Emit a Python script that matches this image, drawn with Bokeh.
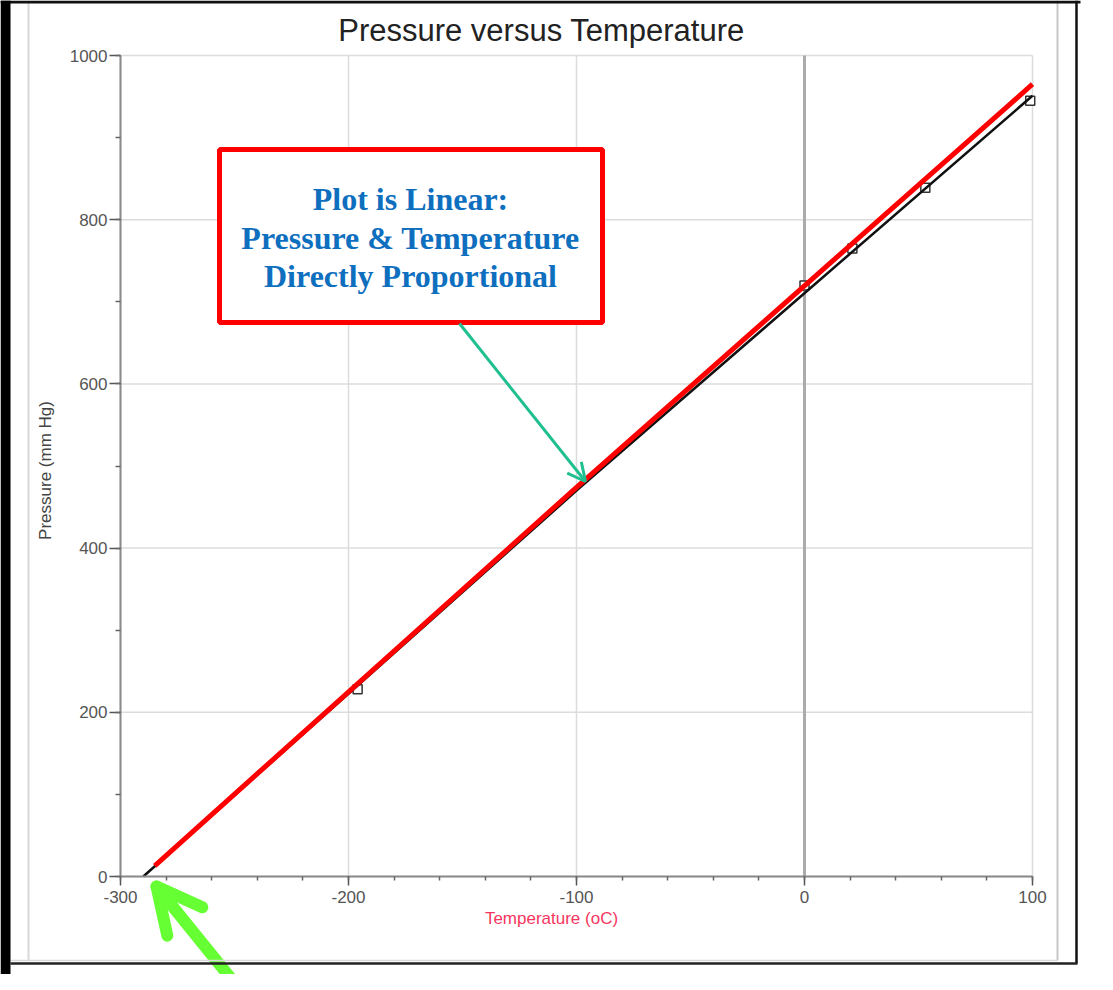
from bokeh.plotting import figure
from bokeh.models import Range1d, FixedTicker, Label, BoxAnnotation, Arrow, OpenHead
from bokeh.embed import file_html
from bokeh.resources import INLINE
import math

# ---- data ----
temperature_c = [-196, 0, 21, 53, 99]
pressure_mmhg = [228, 720, 765, 839, 945]
fit_temperature = [-290, -100, 100]
fit_pressure = [0, 470, 951]
trend_temperature = [-285, -100, 100]
trend_pressure = [13, 474, 965]
x_ticks = [-300, -200, -100, 0, 100]
x_minor_ticks = list(range(-300, 101, 20))
y_ticks = [0, 200, 400, 600, 800, 1000]
y_minor_ticks = list(range(0, 1001, 100))
zero_line_x = [0]
x_limits = (-300, 100)
y_limits = (0, 1000)
title_text = "Pressure versus Temperature"
x_title = "Temperature (oC)"
y_title = "Pressure (mm Hg)"
note_lines = ["Plot is Linear:", "Pressure & Temperature", "Directly Proportional"]

# ---- layout: the data area sits at these canvas pixels ----
W, H = 1097, 974
X0, X1, Y0, Y1 = 120, 1032, 876, 55   # px of x_limits / y_limits
def tx(px):
    return x_limits[0] + (px - X0) * (x_limits[1] - x_limits[0]) / (X1 - X0)
def ty(py):
    return y_limits[0] + (Y0 - py) * (y_limits[1] - y_limits[0]) / (Y0 - Y1)

p = figure(width=W, height=H, output_backend="svg", toolbar_location=None,
           x_range=Range1d(tx(0), tx(W)), y_range=Range1d(ty(H), ty(0)),
           min_border=0)
p.outline_line_color = None
p.background_fill_color = "white"
p.border_fill_color = "white"

# axes drawn at the data origin so the canvas is all frame
p.xaxis.fixed_location = y_limits[0]
p.yaxis.fixed_location = x_limits[0]
p.xaxis.bounds = x_limits
p.yaxis.bounds = y_limits
p.xaxis.ticker = FixedTicker(ticks=x_ticks, minor_ticks=x_minor_ticks)
p.yaxis.ticker = FixedTicker(ticks=y_ticks, minor_ticks=y_minor_ticks)
p.xaxis.major_label_overrides = {t: str(t) for t in x_ticks}
p.yaxis.major_label_overrides = {t: str(t) for t in y_ticks}
for ax in (p.xaxis, p.yaxis):
    ax.axis_line_color = "#8a8a8a"
    ax.axis_line_width = 2
    ax.major_tick_line_color = "#555555"
    ax.minor_tick_line_color = "#666666"
    ax.major_tick_line_width = 1.5
    ax.minor_tick_line_width = 1.5
    ax.major_label_text_font = "Liberation Sans"
    ax.major_label_text_font_size = "17px"
    ax.major_label_text_color = "#555555"
p.xaxis.major_tick_out = 9
p.xaxis.major_tick_in = 0
p.xaxis.minor_tick_out = 4
p.xaxis.minor_tick_in = 0
p.xaxis.major_label_standoff = 5
p.yaxis.major_tick_out = 11
p.yaxis.major_tick_in = 0
p.yaxis.minor_tick_out = 5
p.yaxis.minor_tick_in = 0
p.yaxis.major_label_standoff = 2

# grid lines limited to the data area
p.grid.visible = False
p.segment(x0=x_ticks, y0=[y_limits[0]] * len(x_ticks),
          x1=x_ticks, y1=[y_limits[1]] * len(x_ticks),
          line_color="#dcdcdc", line_width=1.5, level="underlay")
p.segment(x0=[x_limits[0]] * len(y_ticks), y0=y_ticks,
          x1=[x_limits[1]] * len(y_ticks), y1=y_ticks,
          line_color="#dcdcdc", line_width=1.5, level="underlay")
p.segment(x0=zero_line_x, y0=[y_limits[0]], x1=zero_line_x, y1=[y_limits[1]],
          line_color="#ababab", line_width=3, level="underlay")

# ---- data ----
p.scatter(temperature_c, pressure_mmhg, marker="square", size=9,
          fill_color="white", line_color="#333333", line_width=1.5)
p.line(fit_temperature, fit_pressure, line_color="#111111", line_width=2.5)
p.line(trend_temperature, trend_pressure, line_color="#ff0000", line_width=5)

# ---- titles ----
p.add_layout(Label(x=tx(541), y=ty(30), text=title_text, text_align="center",
                   text_baseline="middle", text_font="Liberation Sans",
                   text_font_size="31px", text_color="#222222"))
p.add_layout(Label(x=tx(551), y=ty(918), text=x_title, text_align="center",
                   text_baseline="middle", text_font="Liberation Sans",
                   text_font_size="17px", text_color="#f5365f"))
p.add_layout(Label(x=tx(45), y=ty(470), text=y_title, text_align="center",
                   text_baseline="middle", angle=math.pi / 2,
                   text_font="Liberation Sans", text_font_size="17px",
                   text_color="#444444"))

# ---- callout box ----
p.add_layout(BoxAnnotation(left=tx(219), right=tx(602), top=ty(149), bottom=ty(322),
                           fill_color="white", fill_alpha=1, line_color="#ff0000",
                           line_alpha=1, line_width=5))
for line_text, py in zip(note_lines, [198, 237, 275]):
    p.add_layout(Label(x=tx(410), y=ty(py), text=line_text, text_align="center",
                       text_baseline="middle", text_font="Liberation Serif",
                       text_font_style="bold", text_font_size="32px",
                       text_color="#0f6fbf"))
p.add_layout(Arrow(x_start=tx(459), y_start=ty(323), x_end=tx(585), y_end=ty(481),
                   line_color="#1fbf8f", line_width=3,
                   end=OpenHead(size=18, line_color="#1fbf8f", line_width=3)))

# ---- green pointer below the axis ----
p.add_layout(Arrow(x_start=tx(245), y_start=ty(996), x_end=tx(156), y_end=ty(886),
                   line_color="#66ff33", line_width=12, line_cap="round",
                   end=OpenHead(size=45, line_color="#66ff33", line_width=12,
                                line_cap="round", line_join="round")))

# ---- scanned frame edges ----
for (xa, ya, xb, yb, col, w) in [
    (28, 0, 28, 960, "#d8d8d8", 2),
    (1057, 0, 1057, 960, "#c8c8c8", 2),
    (10, 960, 1057, 960, "#dadada", 1.5),
    (1076, 0, 1076, 963, "#111111", 2.5),
    (10, 963, 1077, 963, "#222222", 2.5),
    (0, 1.5, 1080, 1.5, "#111111", 3),
    (5, 0, 5, H, "#000000", 10),
]:
    p.add_layout(Arrow(x_start=tx(xa), y_start=ty(ya), x_end=tx(xb), y_end=ty(yb),
                       line_color=col, line_width=w, end=None))

open("out.html", "w").write(file_html(p, INLINE))
